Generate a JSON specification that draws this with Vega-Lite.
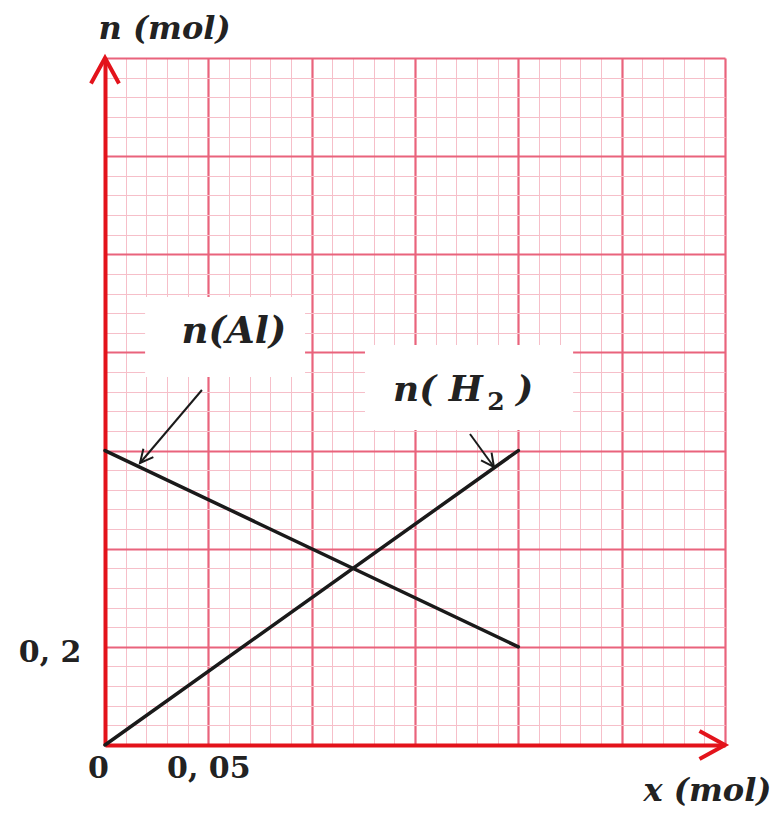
{
  "$schema": "https://vega.github.io/schema/vega-lite/v6.json",
  "width": 620,
  "height": 687,
  "padding": {"left": 105, "top": 58, "right": 58, "bottom": 73},
  "autosize": {"type": "none"},
  "background": "white",
  "config": {"view": {"stroke": null}},
  "encoding": {
    "x": {
      "field": "x",
      "type": "quantitative",
      "scale": {"domain": [0, 0.3], "nice": false, "zero": false},
      "axis": {
        "title": "x (mol)",
        "titleFont": "DejaVu Serif",
        "titleFontStyle": "italic",
        "titleFontWeight": "bold",
        "titleFontSize": 32,
        "titleColor": "#222222",
        "titleAlign": "center",
        "titleBaseline": "middle",
        "titleX": 602,
        "titleY": 45,
        "values": [0,0.01,0.02,0.03,0.04,0.05,0.06,0.07,0.08,0.09,0.1,0.11,0.12,0.13,0.14,0.15,0.16,0.17,0.18,0.19,0.2,0.21,0.22,0.23,0.24,0.25,0.26,0.27,0.28,0.29,0.3],
        "grid": true,
        "gridColor": {"condition": {"test": "round(datum.value*100) % 5 === 0", "value": "#e9637c"}, "value": "#f6bfc9"},
        "gridWidth": {"condition": {"test": "round(datum.value*100) % 5 === 0", "value": 2.2}, "value": 1},
        "gridOpacity": {"condition": {"test": "datum.value === 0", "value": 0}, "value": 1},
        "ticks": false,
        "domainColor": "#e3131b",
        "domainWidth": 4,
        "labelExpr": "datum.value === 0 ? '0' : (abs(datum.value - 0.05) < 1e-9 ? '0, 05' : '')",
        "labelFont": "DejaVu Serif",
        "labelFontWeight": "bold",
        "labelFontSize": 30,
        "labelColor": "#222222",
        "labelOverlap": false,
        "labelFlush": false,
        "labelPadding": 8,
        "labelOffset": {"condition": {"test": "datum.value === 0", "value": -7}, "value": 0}
      }
    },
    "y": {
      "field": "n",
      "type": "quantitative",
      "scale": {"domain": [0, 1.4], "nice": false, "zero": false},
      "axis": {
        "title": "n (mol)",
        "titleFont": "DejaVu Serif",
        "titleFontStyle": "italic",
        "titleFontWeight": "bold",
        "titleFontSize": 32,
        "titleColor": "#222222",
        "titleAngle": 0,
        "titleAlign": "center",
        "titleBaseline": "middle",
        "titleX": 59,
        "titleY": -30,
        "values": [0,0.04,0.08,0.12,0.16,0.2,0.24,0.28,0.32,0.36,0.4,0.44,0.48,0.52,0.56,0.6,0.64,0.68,0.72,0.76,0.8,0.84,0.88,0.92,0.96,1,1.04,1.08,1.12,1.16,1.2,1.24,1.28,1.32,1.36,1.4],
        "grid": true,
        "gridColor": {"condition": {"test": "round(datum.value*100) % 20 === 0", "value": "#e9637c"}, "value": "#f6bfc9"},
        "gridWidth": {"condition": {"test": "round(datum.value*100) % 20 === 0", "value": 2.2}, "value": 1},
        "gridOpacity": {"condition": {"test": "datum.value === 0", "value": 0}, "value": 1},
        "ticks": false,
        "domainColor": "#e3131b",
        "domainWidth": 4,
        "labelExpr": "abs(datum.value - 0.2) < 1e-9 ? '0, 2' : ''",
        "labelFont": "DejaVu Serif",
        "labelFontWeight": "bold",
        "labelFontSize": 30,
        "labelColor": "#222222",
        "labelOverlap": false,
        "labelFlush": false,
        "labelPadding": 24,
        "labelOffset": 6
      }
    }
  },
  "layer": [
    {
      "description": "white label boxes",
      "data": {"values": [
        {"label": "Al", "x": 0.0194, "x2": 0.0968, "n": 0.913, "n2": 0.750},
        {"label": "H2", "x": 0.1258, "x2": 0.2265, "n": 0.815, "n2": 0.642}
      ]},
      "mark": {"type": "rect", "fill": "white"},
      "encoding": {"x2": {"field": "x2"}, "y2": {"field": "n2"}}
    },
    {
      "description": "n(Al) and n(H2) against x",
      "data": {"values": [
        {"series": "Al", "x": 0, "n": 0.6},
        {"series": "Al", "x": 0.2, "n": 0.2},
        {"series": "H2", "x": 0, "n": 0},
        {"series": "H2", "x": 0.2, "n": 0.6}
      ]},
      "mark": {"type": "line", "color": "#1a1a1a", "strokeWidth": 3.5, "strokeCap": "round"},
      "encoding": {"detail": {"field": "series"}}
    },
    {
      "description": "pointer shafts",
      "data": {"values": [
        {"label": "Al", "x": 0.0469, "n": 0.7234, "x2": 0.01694, "n2": 0.5747},
        {"label": "H2", "x": 0.1766, "n": 0.6338, "x2": 0.1882, "n2": 0.5665}
      ]},
      "mark": {"type": "rule", "color": "#1a1a1a", "strokeWidth": 2},
      "encoding": {"x2": {"field": "x2"}, "y2": {"field": "n2"}}
    },
    {
      "data": {"values": [{"x": 0.01694, "n": 0.5747}]},
      "mark": {"type": "point", "shape": "M-0.5,1L0,0L0.5,1", "size": 676, "angle": 220, "filled": false, "stroke": "#1a1a1a", "strokeWidth": 2, "opacity": 1}
    },
    {
      "data": {"values": [{"x": 0.1882, "n": 0.5665}]},
      "mark": {"type": "point", "shape": "M-0.5,1L0,0L0.5,1", "size": 676, "angle": 144, "filled": false, "stroke": "#1a1a1a", "strokeWidth": 2, "opacity": 1}
    },
    {
      "description": "axis arrowheads",
      "data": {"values": [{"x": 0, "n": 1.4}]},
      "mark": {"type": "point", "shape": "M-0.55,1L0,0L0.55,1", "size": 2601, "angle": 0, "filled": false, "stroke": "#e3131b", "strokeWidth": 4, "opacity": 1}
    },
    {
      "data": {"values": [{"x": 0.3, "n": 0}]},
      "mark": {"type": "point", "shape": "M-0.55,1L0,0L0.55,1", "size": 2601, "angle": 90, "filled": false, "stroke": "#e3131b", "strokeWidth": 4, "opacity": 1}
    },
    {
      "description": "curve label n(Al)",
      "data": {"values": [{"text": "n(Al)", "x": 0.0624, "n": 0.8416}]},
      "mark": {"type": "text", "font": "DejaVu Serif", "fontStyle": "italic", "fontWeight": "bold", "fontSize": 37, "color": "#222222", "align": "center", "baseline": "middle"},
      "encoding": {"text": {"field": "text"}}
    },
    {
      "description": "curve label n(H2): main part and closing bracket",
      "data": {"values": [
        {"text": "n( H", "x": 0.13935, "n": 0.7234, "part": "left"},
        {"text": ")", "x": 0.1990, "n": 0.7234, "part": "right"}
      ]},
      "mark": {"type": "text", "font": "DejaVu Serif", "fontStyle": "italic", "fontWeight": "bold", "fontSize": 36, "color": "#222222", "align": "left", "baseline": "middle"},
      "encoding": {"text": {"field": "text"}}
    },
    {
      "description": "subscript 2",
      "data": {"values": [{"text": "2", "x": 0.1892, "n": 0.7000}]},
      "mark": {"type": "text", "font": "DejaVu Serif", "fontWeight": "bold", "fontSize": 25, "color": "#222222", "align": "center", "baseline": "middle"},
      "encoding": {"text": {"field": "text"}}
    }
  ]
}
